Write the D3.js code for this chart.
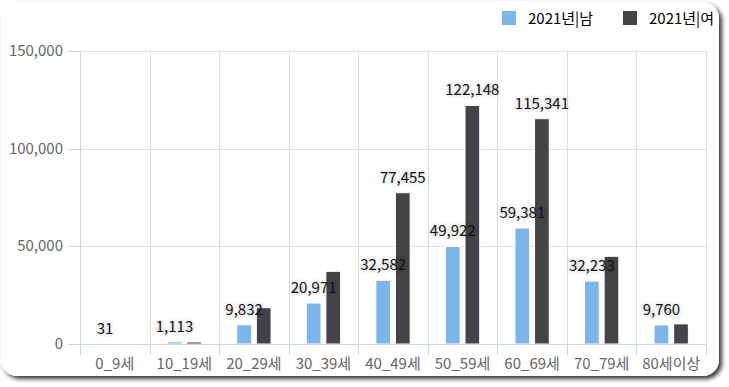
<!DOCTYPE html>
<html>
<head>
<meta charset="utf-8">
<script src="https://cdn.jsdelivr.net/npm/d3@7"></script>
<style>
  body { margin: 0; background: #fff; }
  svg { display: block; font-family: "Malgun Gothic", "Noto Sans CJK KR", sans-serif; }
  .dlabel { text-shadow: 0 0 5px rgba(0,0,0,0.3); }
</style>
</head>
<body>
<svg id="chart" width="729" height="387"></svg>
<script>
// 연령대별 데이터
const categories = ['0_9세', '10_19세', '20_29세', '30_39세', '40_49세', '50_59세', '60_69세', '70_79세', '80세이상'];
const seriesNames = ['2021년|남', '2021년|여'];
const male = [31, 1113, 9832, 20971, 32582, 49922, 59381, 32233, 9760];
const female = [25, 1050, 18600, 37200, 77455, 122148, 115341, 44900, 10300];
// 겹쳐서 숨겨진 라벨 (여성 시리즈)
const femaleLabelShown = [false, false, false, false, true, true, true, false, false];
const yTicks = [0, 50000, 100000, 150000];
const colors = ['#7cb5ec', '#434348'];

const svg = d3.select('#chart');
const mLeft = 80, mRight = 706, mTop = 51, mBottom = 344;

// 카드 배경 + 그림자
const defs = svg.append('defs');
const f = defs.append('filter').attr('id', 'shadow').attr('x', '-5%').attr('y', '-5%').attr('width', '110%').attr('height', '115%');
f.append('feDropShadow').attr('dx', 3).attr('dy', 3).attr('stdDeviation', 2)
  .attr('flood-color', '#222').attr('flood-opacity', 0.9);
svg.append('rect')
  .attr('x', 1).attr('y', 2).attr('width', 718).attr('height', 374)
  .attr('rx', 16).attr('fill', '#fff').attr('filter', 'url(#shadow)');

const x0 = d3.scaleBand().domain(categories).range([mLeft, mRight]);
const x1 = d3.scaleBand().domain([0, 1]).range([0, x0.bandwidth()]).paddingInner(0.25).paddingOuter(0.9);
const y = d3.scaleLinear().domain([0, 150000]).range([mBottom, mTop]);

// 가로 그리드
svg.append('g').selectAll('line').data(yTicks).join('line')
  .attr('x1', mLeft).attr('x2', mRight)
  .attr('y1', d => Math.round(y(d)) + 0.5).attr('y2', d => Math.round(y(d)) + 0.5)
  .attr('stroke', '#dedede');

// 세로 그리드 (카테고리 경계)
const bounds = categories.map(c => x0(c)).concat([mRight]);
svg.append('g').selectAll('line').data(bounds.slice(1)).join('line')
  .attr('x1', d => Math.round(d) + 0.5).attr('x2', d => Math.round(d) + 0.5)
  .attr('y1', mTop).attr('y2', mBottom)
  .attr('stroke', '#dedede');

// y축 선 + 눈금
svg.append('line').attr('x1', mLeft + 0.5).attr('x2', mLeft + 0.5).attr('y1', mTop).attr('y2', mBottom + 11)
  .attr('stroke', '#ccd6eb');
svg.append('g').selectAll('line').data(yTicks).join('line')
  .attr('x1', mLeft - 12).attr('x2', mLeft)
  .attr('y1', d => Math.round(y(d)) + 0.5).attr('y2', d => Math.round(y(d)) + 0.5)
  .attr('stroke', '#ccd6eb');
svg.append('g').selectAll('text').data(yTicks).join('text')
  .attr('x', 63).attr('y', d => y(d) + 5)
  .attr('text-anchor', 'end').attr('fill', '#666').attr('font-size', 15)
  .text(d => d3.format(',')(d));

// 막대
categories.forEach((c, i) => {
  [male[i], female[i]].forEach((v, s) => {
    svg.append('rect')
      .attr('x', x0(c) + x1(s)).attr('width', x1.bandwidth())
      .attr('y', y(v)).attr('height', mBottom - y(v))
      .attr('fill', colors[s]).attr('stroke', '#fff').attr('stroke-width', 1);
  });
});

// x축 선 + 눈금
svg.append('line').attr('x1', mLeft).attr('x2', mRight).attr('y1', mBottom + 0.5).attr('y2', mBottom + 0.5)
  .attr('stroke', '#ccd6eb');
svg.append('g').selectAll('line').data(bounds).join('line')
  .attr('x1', d => Math.round(d) + 0.5).attr('x2', d => Math.round(d) + 0.5)
  .attr('y1', mBottom).attr('y2', mBottom + 11)
  .attr('stroke', '#ccd6eb');
svg.append('g').selectAll('text').data(categories).join('text')
  .attr('x', d => x0(d) + x0.bandwidth() / 2).attr('y', mBottom + 25)
  .attr('text-anchor', 'middle').attr('fill', '#666').attr('font-size', 15)
  .text(d => d);

// 데이터 라벨
categories.forEach((c, i) => {
  [male[i], female[i]].forEach((v, s) => {
    if (s === 1 && !femaleLabelShown[i]) return;
    svg.append('text').attr('class', 'dlabel')
      .attr('x', x0(c) + x1(s) + x1.bandwidth() / 2).attr('y', y(v) - 10)
      .attr('text-anchor', 'middle').attr('fill', '#111').attr('font-size', 15)
      .text(d3.format(',')(v));
  });
});

// 범례
const legend = svg.append('g');
const legX = [502, 623];
seriesNames.forEach((n, s) => {
  legend.append('rect').attr('x', legX[s]).attr('y', 11).attr('width', 14).attr('height', 14)
    .attr('fill', colors[s]);
  legend.append('text').attr('x', legX[s] + 26).attr('y', 24)
    .attr('fill', '#000').attr('font-size', 15).text(n);
});
</script>
</body>
</html>
